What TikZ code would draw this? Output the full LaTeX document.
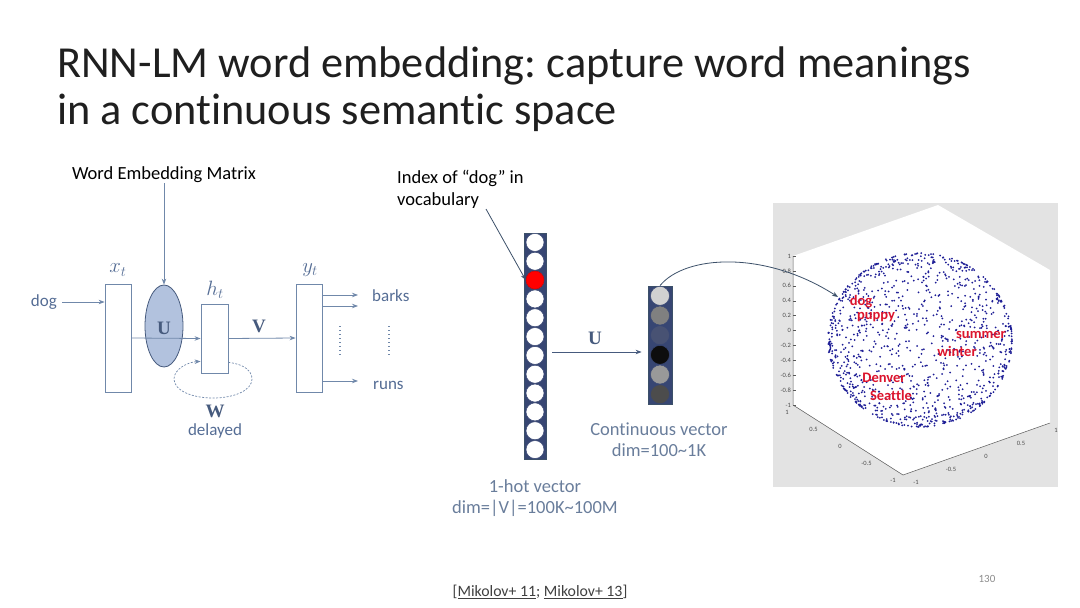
\documentclass[tikz,border=0pt]{standalone}
\usepackage{fontspec}
\setmainfont{Carlito}[Ligatures=NoCommon]
\newfontfamily\serifbold{Liberation Serif}
\usetikzlibrary{arrows.meta,shapes.geometric,calc}
\definecolor{lnc}{RGB}{112,136,170}
\definecolor{lbl}{RGB}{84,108,148}
\definecolor{lbld}{RGB}{70,90,125}
\definecolor{softlbl}{RGB}{105,125,155}
\definecolor{ufill}{RGB}{178,194,222}
\definecolor{colfill}{RGB}{55,70,115}
\definecolor{redlbl}{RGB}{220,20,45}
\definecolor{dotc}{RGB}{30,30,150}
\definecolor{ptr}{RGB}{60,80,105}
\frenchspacing
\begin{document}
\begin{tikzpicture}[x=1pt,y=-1pt,
  box/.style={draw=lnc, line width=0.8pt, fill=white, inner sep=0pt},
  arr/.style={draw=lnc, line width=0.8pt, -{Stealth[length=6pt,width=4.5pt]}},
  word/.style={text=lbl, font=\fontsize{17}{20}\selectfont, inner sep=0pt},
  mlbl/.style={text=lbl, font=\fontsize{20}{22}\selectfont, inner sep=0pt},
  bl/.style={text=lbld, font=\fontsize{19}{20}\selectfont\serifbold\bfseries, inner sep=0pt},
  note/.style={text=black, font=\fontsize{18.5}{22}\selectfont, inner sep=0pt, align=left},
  soft/.style={text=softlbl, font=\fontsize{18.5}{21}\selectfont, inner sep=0pt, align=center},
  cell/.style={circle, draw=colfill, line width=0.5pt, fill=white, minimum size=18pt, inner sep=0pt},
  ccell/.style={circle, draw=colfill, line width=0.5pt, minimum size=19pt, inner sep=0pt},
  red/.style={text=redlbl, font=\fontsize{14.5}{15}\selectfont\bfseries, inner sep=0pt},
  tick/.style={text=black!70, font=\fontsize{6.5}{7}\selectfont, inner sep=0pt},
]
\useasboundingbox (0,0) rectangle (1080,608);

% Title
\node[anchor=base west, inner sep=0pt, text=black!88, font=\fontsize{44.3}{48}\selectfont] (t1) at (57,77) {RNN-LM word embedding: capture word meanings};
\node[anchor=base west, inner sep=0pt, text=black!88, font=\fontsize{44.3}{48}\selectfont] (t2) at (57,124) {in a continuous semantic space};

% ---------------- Left RNN diagram
\node[note] (wem) at (164,175) {Word Embedding Matrix};
\node[box, minimum width=26pt, minimum height=108pt] (xt) at (118,338) {};
\node[box, minimum width=27pt, minimum height=69pt] (ht) at (214.5,338.5) {};
\node[box, minimum width=26pt, minimum height=108pt] (yt) at (309,338) {};
\node[ellipse, draw=lbld, line width=0.8pt, fill=ufill, minimum width=38pt, minimum height=82pt, inner sep=0pt] (U) at (164,326) {};
\node[bl] (Ul) at (164,328) {U};

\node[mlbl] (xtl) at (118,270) {$x_t$};
\node[mlbl] (htl) at (215,290) {$h_t$};
\node[mlbl] (ytl) at (310,270) {$y_t$};

\draw[arr] (wem.south -| U.north) -- (U.north);

\node[word, anchor=east] (dog) at (57,302) {dog};
\draw[arr] ([xshift=5pt]dog.east) -- (xt.west |- dog.east);

\draw[arr] (xt.east) -- (ht.west);
\draw[arr] (ht.east) -- (yt.west);
\node[bl] (Vl) at (259,326) {V};

% recurrent loop
\coordinate (lpA) at ([yshift=11pt]ht.south east);
\coordinate (lpB) at ([yshift=12pt]ht.south west);
\draw[draw=lnc, line width=0.7pt, dash pattern=on 2pt off 1.5pt, -{Stealth[length=6pt,width=4.5pt]}]
  (lpA) .. controls (244,364) and (252,371) .. (252,379)
  .. controls (252,390) and (235,398) .. (213,398)
  .. controls (191,398) and (174,390) .. (174,379)
  .. controls (174,369) and (188,362) .. (lpB);
\node[bl] (Wl) at (215,411) {W};
\node[word, font=\fontsize{17}{18}\selectfont] (dl) at (215,431) {delayed};

% outputs
\node[word, anchor=west] (barks) at (372,296) {barks};
\node[word, anchor=west] (runs) at (373,385) {runs};
\coordinate (o1) at (358,295);
\coordinate (o2) at (358,306);
\coordinate (o3) at (358,381);
\draw[arr] (yt.east |- o1) -- (o1);
\draw[arr] (yt.east |- o2) -- (o2);
\draw[arr] (yt.east |- o3) -- (o3);
\coordinate (d1a) at (340,326); \coordinate (d1b) at (340,357);
\coordinate (d2a) at (389,326); \coordinate (d2b) at (389,357);
\draw[lnc, line width=1.3pt, dash pattern=on 1.2pt off 2.8pt] (d1a) -- (d1b);
\draw[lnc, line width=1.3pt, dash pattern=on 1.2pt off 2.8pt] (d2a) -- (d2b);

% ---------------- Middle: one-hot and continuous vector
\node[note, anchor=west] (idx) at (397,189) {Index of “dog” in\\vocabulary};
\node[draw=ptr, line width=0.8pt, fill=colfill, minimum width=22pt, minimum height=226pt, inner sep=0pt] (oh) at (535,346) {};
\foreach \i in {1,...,12}{
  \node[cell] (c\i) at (535,{233+(\i-0.5)*18.83}) {};
}
\node[cell, fill=red, draw=red!80!black] (c3) at (535,{233+2.5*18.83}) {};
\coordinate (idxa) at (486,209);
\draw[draw=ptr, line width=0.8pt, -{Stealth[length=6pt,width=4.5pt]}] (idxa) -- (c3.west);

\node[draw=ptr, line width=0.8pt, fill=colfill, minimum width=24pt, minimum height=118pt, inner sep=0pt] (cv) at (660,345) {};
\foreach \i/\c in {1/black!18, 2/black!50, 3/{rgb,255:red,72;green,82;blue,115}, 4/black!95, 5/black!40, 6/black!70}{
  \node[ccell, fill=\c] (v\i) at (660,{286+(\i-0.5)*19.67}) {};
}
\draw[draw=lbld, line width=0.8pt, -{Stealth[length=6pt,width=4.5pt]}] ([xshift=6pt,yshift=-6pt]oh.east) -- ([xshift=-6pt,yshift=-7pt]cv.west);
\node[bl] (Um) at (595,338) {U};

\node[soft] (cvl) at (659,440) {Continuous vector\\dim=100\textasciitilde1K};
\node[soft] (ohl) at (535,498) {1-hot vector\\dim=|V|=100K\textasciitilde100M};

% ---------------- Right: scatter plot
\fill[gray!22] (773,203) rectangle (1058,487);
\fill[white] (793,256) -- (938,205) -- (1050,270) -- (1050,423) -- (903,475) -- (793,405) -- cycle;
\draw[black!65, line width=0.5pt] (793,256) -- (793,405) -- (903,475) -- (1050,423);
\foreach \k/\t in {0/1,1/0.8,2/0.6,3/0.4,4/0.2,5/0,6/-0.2,7/-0.4,8/-0.6,9/-0.8,10/-1}{
  \draw[black!65, line width=0.4pt] (793,{256+\k*14.9}) -- (796,{256+\k*14.9});
  \node[tick, anchor=east] at (791,{256+\k*14.9}) {\t};
}
\foreach \k/\t in {0/1,1/0.5,2/0,3/-0.5,4/-1}{
  \node[tick] at ({787+\k*26.5},{412+\k*17}) {\t};
}
\foreach \k/\t in {0/-1,1/-0.5,2/0,3/0.5,4/1}{
  \node[tick] at ({916+\k*35},{482-\k*13}) {\t};
}
\pgfmathsetseed{11}
\foreach \i in {1,...,1150}{
  \pgfmathsetmacro\zz{rand}
  \pgfmathsetmacro\ph{360*rnd}
  \pgfmathsetmacro\rr{sqrt(max(0,1-\zz*\zz))}
  \fill[dotc] ({920+92*\rr*cos(\ph)},{340+87*\rr*sin(\ph)}) circle (1.0);
}
\node[red] (w1) at (861,302) {dog};
\node[red] (w2) at (876,317) {puppy};
\node[red] (w3) at (981,335) {summer};
\node[red] (w4) at (957,351) {winter};
\node[red] (w5) at (884,378) {Denver};
\node[red] (w6) at (891,395) {Seattle};

\coordinate (dogpt) at (838,297);
\draw[draw=ptr, line width=0.8pt, -{Stealth[length=6pt,width=4.5pt]}] (cv.north) .. controls (685,255) and (765,250) .. (dogpt);

% footer
\node[inner sep=0pt, text=black!75, font=\fontsize{15.8}{16}\selectfont] (ref) at (540,592) {[\underline{Mikolov+ 11}; \underline{Mikolov+ 13}]};
\node[inner sep=0pt, text=black!45, font=\fontsize{11}{13}\selectfont] (pg) at (987,579) {130};
\end{tikzpicture}
\end{document}
